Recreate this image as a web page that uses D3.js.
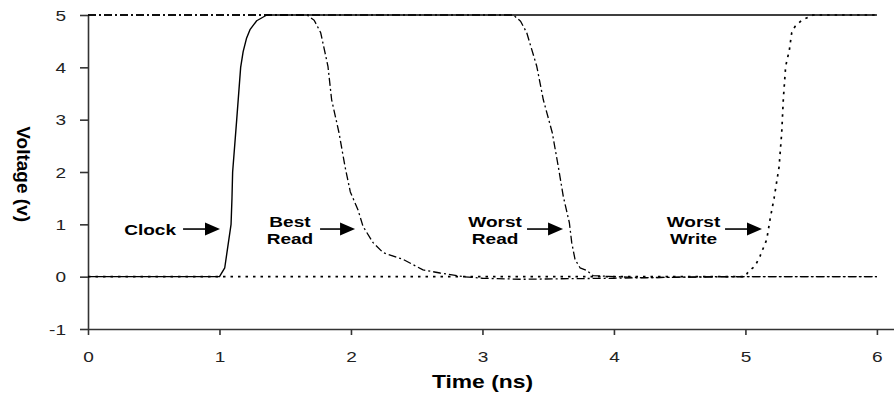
<!DOCTYPE html>
<html>
<head>
<meta charset="utf-8">
<script src="https://cdn.jsdelivr.net/npm/d3@7"></script>
<style>
  html, body { margin: 0; padding: 0; background: #fff; }
  svg { display: block; }
</style>
</head>
<body>
<svg id="chart" width="894" height="396"></svg>
<script>
// Tick values
const xTicks = [0, 1, 2, 3, 4, 5, 6];
const yTicks = [-1, 0, 1, 2, 3, 4, 5];

// Waveforms: [time (ns), voltage (V)]
const clock = [
  [0, 0], [1.0, 0], [1.04, 0.17], [1.088, 1.0], [1.095, 1.5], [1.10, 2.0],
  [1.131, 3.0], [1.161, 4.0], [1.18, 4.3], [1.205, 4.55], [1.232, 4.72],
  [1.283, 4.89], [1.36, 5.0], [6.0, 5.0]
];
const bestRead = [
  [0, 5], [1.666, 5], [1.72, 4.9], [1.77, 4.66], [1.825, 4.02], [1.853, 3.38],
  [1.909, 2.75], [1.955, 2.1], [1.995, 1.62], [2.053, 1.28], [2.092, 0.96],
  [2.168, 0.65], [2.244, 0.46], [2.396, 0.33], [2.548, 0.13], [2.677, 0.07],
  [2.852, 0.0], [3.0, -0.03], [3.3, -0.05], [3.6, -0.04], [4.0, -0.03],
  [4.5, -0.01], [5.0, 0.0], [6.0, 0.0]
];
const worstRead = [
  [0, 5], [3.235, 5], [3.29, 4.88], [3.337, 4.66], [3.413, 4.02], [3.463, 3.38],
  [3.531, 2.75], [3.577, 2.1], [3.615, 1.53], [3.661, 1.03], [3.679, 0.65],
  [3.704, 0.33], [3.742, 0.17], [3.793, 0.12], [3.841, 0.02], [4.2, -0.02],
  [4.8, 0.0], [6.0, 0.0]
];
const worstWrite = [
  [0, 0], [5.0, 0], [5.022, 0.1], [5.073, 0.2], [5.111, 0.39], [5.162, 0.71],
  [5.187, 1.09], [5.218, 1.5], [5.256, 2.1], [5.276, 2.75], [5.288, 3.38],
  [5.306, 4.02], [5.334, 4.33], [5.352, 4.66], [5.377, 4.78], [5.428, 4.9],
  [5.514, 5.0], [6.0, 5.0]
];

// Callout labels: text centre time, arrow start/end time, arrow voltage
const calloutLines = [["Clock"], ["Best", "Read"], ["Worst", "Read"], ["Worst", "Write"]];
const calloutTextT = [0.472, 1.536, 3.096, 4.605];
const calloutFromT = [0.723, 1.765, 3.339, 4.845];
const calloutToT = [1.004, 2.031, 3.613, 5.126];
const calloutV = 0.91;

const svg = d3.select("#chart");
const FONT = "'Liberation Sans', Arial, Helvetica, sans-serif";
const SX = 1.27; // horizontal glyph stretch

const x = d3.scaleLinear().domain([0, 6.13]).range([88, 894]);
const y = d3.scaleLinear().domain([-1, 5]).range([329, 15]);

// Axes
const axisColor = "#333";
const fmt = d => String(d);
const xAxis = d3.axisBottom(x).tickValues(xTicks).tickSize(6).tickSizeOuter(0).tickFormat(fmt);
const yAxis = d3.axisLeft(y).tickValues(yTicks).tickSize(8).tickSizeOuter(0).tickFormat(fmt);

const gx = svg.append("g").attr("transform", `translate(0,${y(-1)})`).call(xAxis);
const gy = svg.append("g").attr("transform", `translate(${x(0)},0)`).call(yAxis);

[gx, gy].forEach(g => {
  g.select(".domain").attr("stroke", axisColor).attr("stroke-width", 1.6);
  g.selectAll(".tick line").attr("stroke", axisColor).attr("stroke-width", 1.6);
  g.selectAll(".tick text")
    .attr("font-family", FONT).attr("font-size", 15).attr("fill", "#222");
});
gx.selectAll(".tick text").attr("y", 33.5).attr("dy", 0).attr("transform", `scale(${SX},1)`);
gy.selectAll(".tick text").attr("x", -22 / SX).attr("dy", "0.35em").attr("transform", `scale(${SX},1)`);

// Waveforms
const line = d3.line().x(d => x(d[0])).y(d => y(d[1]));
const series = [
  { data: worstWrite, dash: "2.5,5", width: 1.7 },
  { data: worstRead, dash: "8,3,2,3", width: 1.3 },
  { data: bestRead, dash: "8,3,2,3", width: 1.3 },
  { data: clock, dash: null, width: 1.4 }
];
series.forEach(s => {
  svg.append("path")
    .attr("d", line(s.data))
    .attr("fill", "none")
    .attr("stroke", "#000")
    .attr("stroke-width", s.width)
    .attr("stroke-linejoin", "round")
    .attr("stroke-dasharray", s.dash);
});

// Stretched text helper
function stretchedText(px, py, str, size, weight, anchor) {
  svg.append("g")
    .attr("transform", `translate(${px},${py}) scale(${SX},1)`)
    .append("text")
    .attr("text-anchor", anchor || "middle")
    .attr("font-family", FONT)
    .attr("font-size", size)
    .attr("font-weight", weight)
    .attr("fill", "#000")
    .text(str);
}

// Callouts with arrows
calloutLines.forEach((lines, i) => {
  const cx = x(calloutTextT[i]);
  const ay = y(calloutV);
  const baselines = lines.length === 1 ? [ay + 5.5] : [ay - 2, ay + 15];
  lines.forEach((t, j) => stretchedText(cx, baselines[j], t, 15, "bold"));
  const x0 = x(calloutFromT[i]);
  const x1 = x(calloutToT[i]);
  svg.append("line")
    .attr("x1", x0).attr("x2", x1 - 12)
    .attr("y1", ay).attr("y2", ay)
    .attr("stroke", "#000").attr("stroke-width", 1.6);
  svg.append("path")
    .attr("d", `M${x1},${ay} L${x1 - 15},${ay - 6.5} L${x1 - 15},${ay + 6.5} Z`)
    .attr("fill", "#000");
});

// Axis titles
stretchedText(x(3), 388, "Time (ns)", 18, "bold");
svg.append("text")
  .attr("transform", `translate(17,${(y(2) + y(1)) / 2 - 24}) rotate(90)`)
  .attr("text-anchor", "middle")
  .attr("font-family", FONT)
  .attr("font-size", 19)
  .attr("font-weight", "bold")
  .attr("fill", "#000")
  .text("Voltage (v)");
</script>
</body>
</html>
